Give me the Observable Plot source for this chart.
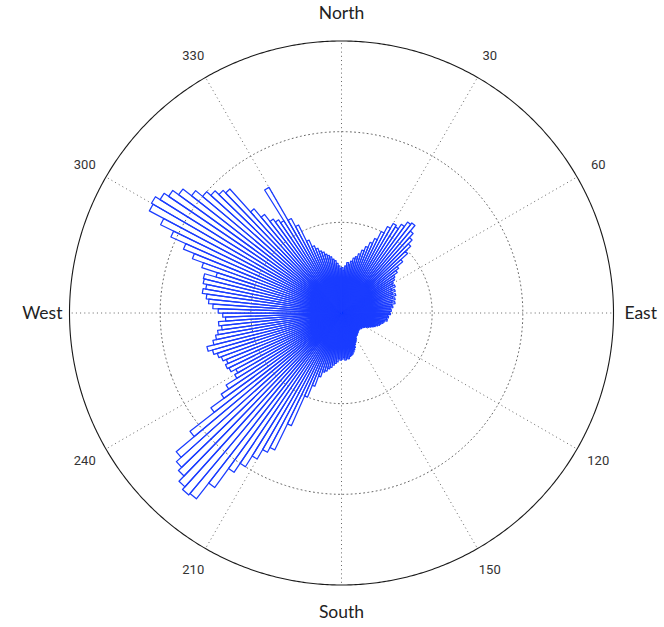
<!DOCTYPE html>
<html>
<head>
<meta charset="utf-8">
<script src="https://cdn.jsdelivr.net/npm/d3@7"></script>
<script src="https://cdn.jsdelivr.net/npm/@observablehq/plot@0.6"></script>
<style>
  html, body { margin: 0; padding: 0; background: #fff; }
  #chart { width: 664px; height: 627px; }
</style>
</head>
<body>
<div id="chart"></div>
<script>
// Wind-direction rose: counts per 2° bin, compass degrees clockwise from North.
const binWidth = 2;
const counts = [
  50, 47, 52, 56, 54, 58, 62, 64, 68, 73,
  78, 84, 90, 100, 108, 114, 112, 118, 124, 126,
  118, 112, 106, 98, 88, 80, 76, 71, 69, 66,
  64, 66, 61, 64, 60, 63, 59, 61, 57, 60,
  56, 57, 54, 55, 53, 54, 51, 52, 50, 51,
  48, 47, 45, 44, 42, 40, 38, 36, 34, 32,
  30, 29, 27, 28, 26, 27, 25, 27, 26, 28,
  28, 29, 30, 29, 31, 33, 35, 36, 38, 41,
  43, 45, 47, 48, 49, 51, 50, 52, 49, 51,
  52, 50, 54, 56, 58, 61, 63, 66, 68, 74,
  86, 100, 136, 168, 174, 186, 200, 212, 238, 260,
  262, 258, 250, 245, 238, 212, 178, 160, 150, 136,
  132, 138, 140, 137, 141, 144, 148, 153, 145, 141,
  138, 133, 136, 128, 131, 136, 142, 147, 150, 155,
  152, 156, 157, 144, 162, 175, 188, 206, 222, 240,
  242, 236, 230, 222, 210, 200, 194, 188, 184, 150,
  138, 128, 124, 120, 160, 118, 108, 88, 80, 76,
  72, 70, 67, 65, 63, 60, 58, 55, 52, 49
];

// Radial grid rings (the last one is the outer frame) and angular spokes
const ringTicks = [100, 200, 300];
const spokeAngles = [0, 30, 60, 90, 120, 150, 180, 210, 240, 270, 300, 330];
const spokeLabels = ["North", "30", "60", "East", "120", "150", "South", "210", "240", "West", "300", "330"];

const rMax = 300;               // outer ring value
const degPerCount = 30 / rMax;  // angular radius on the projection sphere
const lon = (angle) => 180 - angle;       // compass angle -> longitude
const lat = (r) => 90 - r * degPerCount;  // radius -> latitude

// Each bin becomes a closed wedge outline: centre -> edge -> edge -> centre
const wedges = counts.flatMap((c, i) => {
  const a0 = i * binWidth, a1 = a0 + binWidth;
  return [
    {bin: i, angle: a0, r: 0},
    {bin: i, angle: a0, r: c},
    {bin: i, angle: a1, r: c},
    {bin: i, angle: a1, r: 0}
  ];
});

const spokes = spokeAngles.map((a, i) => ({angle: a, label: spokeLabels[i], cardinal: i % 3 === 0}));
const ringShape = (r) => d3.geoCircle().center([0, 90]).radius(r * degPerCount).precision(0.5)();

const chart = Plot.plot({
  width: 664,
  height: 627,
  marginLeft: 69,
  marginRight: 51,
  marginTop: 40.5,
  marginBottom: 42.5,
  style: {background: "#fff"},
  projection: {
    type: "azimuthal-equidistant",
    rotate: [0, -90],
    domain: ringShape(rMax),
    clip: false
  },
  marks: [
    // dotted spokes
    Plot.link(spokes, {
      x1: d => lon(d.angle), y1: 90,
      x2: d => lon(d.angle), y2: lat(rMax),
      stroke: "#666", strokeWidth: 1, strokeDasharray: "1,3.2"
    }),
    // dotted inner rings
    Plot.geo(ringTicks.filter(r => r < rMax), {
      geometry: ringShape,
      fill: "none", stroke: "#666", strokeWidth: 1, strokeDasharray: "1,3.2"
    }),
    // outer frame
    Plot.geo([rMax], {
      geometry: ringShape,
      fill: "none", stroke: "#1a1a1a", strokeWidth: 1.1
    }),
    // rose wedges
    Plot.line(wedges, {
      x: d => lon(d.angle),
      y: d => lat(d.r),
      z: "bin",
      stroke: "#1a3cff",
      strokeWidth: 1.25
    }),
    // angle labels
    Plot.text(spokes.filter(d => !d.cardinal), {
      x: d => lon(d.angle),
      y: lat(rMax * 1.09),
      text: "label",
      fill: "#333",
      fontSize: 13,
      fontFamily: "Liberation Sans Narrow, Arial Narrow, Roboto, sans-serif"
    }),
    Plot.text(spokes.filter(d => d.cardinal), {
      x: d => lon(d.angle),
      y: lat(rMax * 1.1),
      text: "label",
      fill: "#222",
      fontSize: 17.5,
      fontFamily: "Lato, Open Sans, sans-serif"
    })
  ]
});

document.getElementById("chart").appendChild(chart);
</script>
</body>
</html>
